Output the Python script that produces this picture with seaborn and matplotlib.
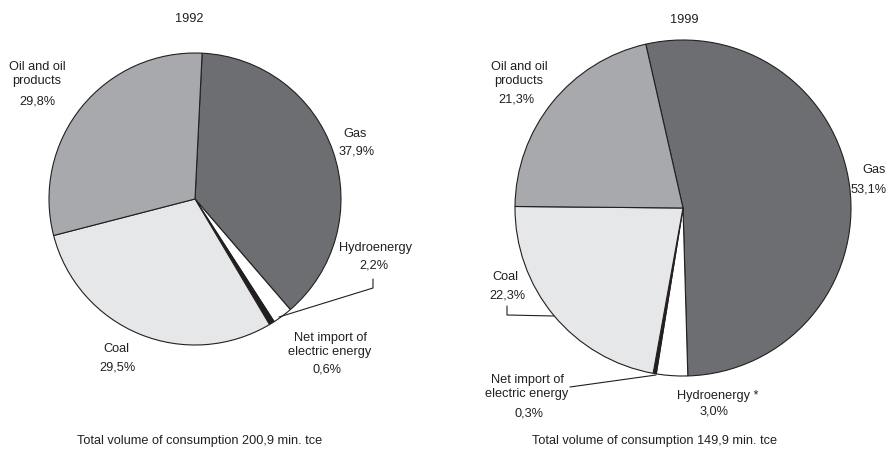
import matplotlib
matplotlib.use("Agg")
import matplotlib.pyplot as plt
from matplotlib.lines import Line2D
import seaborn as sns

# energy consumption structure, shares in %
sources = ["Gas", "Hydroenergy", "Net import of\nelectric energy", "Coal", "Oil and oil\nproducts"]
shares_1992 = [37.9, 2.2, 0.6, 29.5, 29.8]
shares_1999 = [53.1, 3.0, 0.3, 22.3, 21.3]
years = ["1992", "1999"]
totals = [200.9, 149.9]
colors = ["#6d6e71", "#ffffff", "#231f20", "#e6e7e8", "#a7a9ac"]

W, H = 888, 449
INK = "#231f20"
FS = 9.2

sns.set_theme(style="white")
plt.rcParams["font.family"] = ["Liberation Sans", "DejaVu Sans"]

fig = plt.figure(figsize=(W / 100, H / 100), dpi=100)
fig.patch.set_facecolor("white")


def fx(x):
    return x / W


def fy(y):
    return 1 - y / H


def pct(v):
    return f"{v:.1f}%".replace(".", ",")


# pie layout: centre (px), radius (px), start angle, label spots (px)
pies = [
    dict(cx=195, cy=199, r=146, start=87.2, shares=shares_1992, title_xy=(189, 19), total_xy=(200, 441),
         names=[(355, 134), (375, 248), (330, 345), (116, 349), (37, 74)],
         pcts=[(357, 152), (374, 266), (327, 370), (117, 367), (37, 102)],
         pct_ha=["center"] * 5,
         extra=["", "", "", "", ""],
         leaders=[[(373, 279), (373, 288), (279, 317)]]),
    dict(cx=683, cy=208, r=168, start=102.8, shares=shares_1999, title_xy=(684, 20), total_xy=(655, 441),
         names=[(874, 170), (718, 396), (527, 387), (505, 277), (519, 74)],
         pcts=[(887, 189), (714, 411), (529, 413), (507, 295), (516, 100)],
         pct_ha=["right", "center", "center", "center", "center"],
         extra=["", " *", "", "", ""],
         leaders=[[(507, 306), (507, 315), (554, 316)], [(570, 387), (656, 375)]]),
]

for p, year, total in zip(pies, years, totals):
    ax = fig.add_axes([fx(p["cx"] - p["r"]), fy(p["cy"] + p["r"]), 2 * p["r"] / W, 2 * p["r"] / H])
    ax.pie(p["shares"], colors=colors, startangle=p["start"], counterclock=False, radius=1,
           wedgeprops=dict(edgecolor=INK, linewidth=0.8, clip_on=False))
    ax.set_xlim(-1, 1)
    ax.set_ylim(-1, 1)
    ax.set_aspect("equal")
    ax.axis("off")

    fig.text(fx(p["title_xy"][0]), fy(p["title_xy"][1]), year, ha="center", va="center",
             fontsize=FS, color=INK)
    fig.text(fx(p["total_xy"][0]), fy(p["total_xy"][1]),
             f"Total volume of consumption {str(total).replace('.', ',')} min. tce",
             ha="center", va="center", fontsize=FS, color=INK)

    for name, v, nxy, pxy, ha, ex in zip(sources, p["shares"], p["names"], p["pcts"],
                                         p["pct_ha"], p["extra"]):
        fig.text(fx(nxy[0]), fy(nxy[1]), name + ex, ha="center", va="center", fontsize=FS,
                 color=INK, linespacing=1.15)
        fig.text(fx(pxy[0]), fy(pxy[1]), pct(v), ha=ha, va="center", fontsize=FS, color=INK)

    for pts in p["leaders"]:
        fig.add_artist(Line2D([fx(a) for a, b in pts], [fy(b) for a, b in pts],
                              transform=fig.transFigure, color=INK, linewidth=0.8))

fig.savefig("out.png", dpi=100, facecolor="white")
